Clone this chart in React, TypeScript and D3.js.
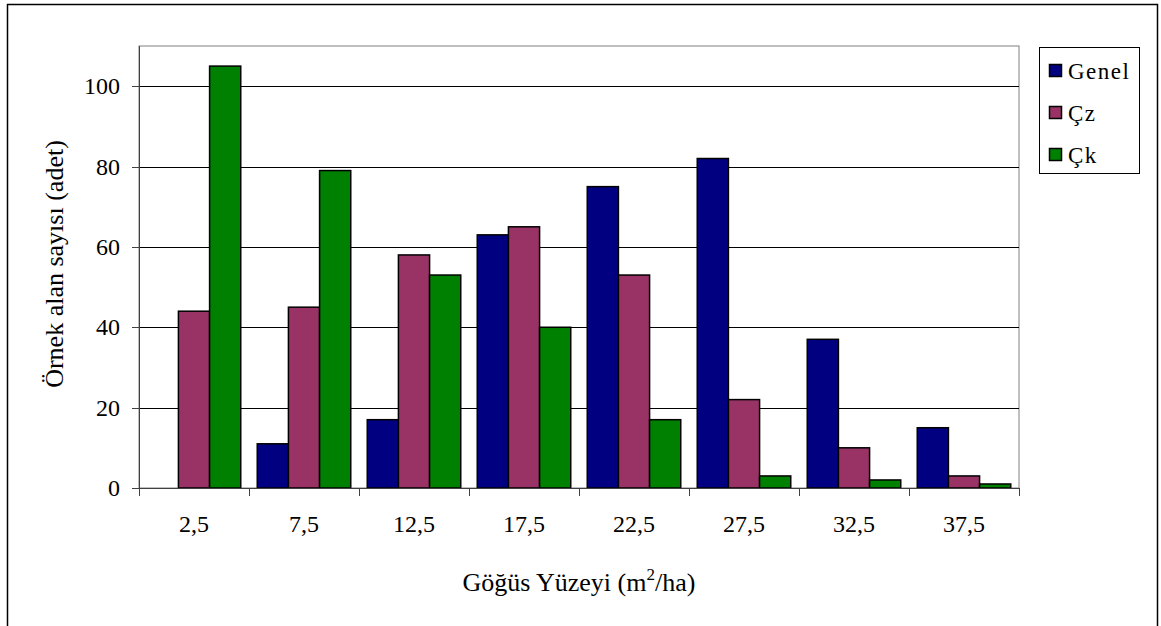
import React from "react";
import * as d3 from "d3";

const categories = ["2,5", "7,5", "12,5", "17,5", "22,5", "27,5", "32,5", "37,5"];
const seriesNames = ["Genel", "Çz", "Çk"];
const genel = [0, 11, 17, 63, 75, 82, 37, 15];
const cz = [44, 45, 58, 65, 53, 22, 10, 3];
const ck = [105, 79, 53, 40, 17, 3, 2, 1];
const colors = ["#000080", "#993366", "#008000"];
const yTicks = [0, 20, 40, 60, 80, 100];

const seriesValues = [genel, cz, ck];

export default function App() {
  const left = 139, right = 1019, top = 46, bottom = 488;
  const x0 = d3.scaleBand<string>().domain(categories).range([left, right]).padding(0);
  const bw = x0.bandwidth();
  const x1 = d3.scaleBand<string>().domain(seriesNames).range([bw * 0.075, bw * 0.925]).padding(0);
  const y = d3.scaleLinear().domain([0, 110]).range([bottom, top]);
  const font = '"Liberation Serif", "Times New Roman", Times, serif';

  return (
    <svg width={1161} height={626} style={{ position: "absolute", left: 0, top: 0, background: "#fff", fontFamily: font }}>
      <rect x={7.5} y={4.5} width={1150} height={700} fill="#fff" stroke="#000" strokeWidth={1.5} />
      {/* plot border */}
      <rect x={left} y={top} width={right - left} height={bottom - top} fill="#fff" stroke="#808080" strokeWidth={1} />
      {/* gridlines */}
      {yTicks.filter(t => t > 0).map(t => (
        <line key={t} x1={left} x2={right} y1={Math.round(y(t)) + 0.5} y2={Math.round(y(t)) + 0.5} stroke="#000" strokeWidth={1} />
      ))}
      {/* bars */}
      {categories.map((c, i) => (
        <g key={c}>
          {seriesNames.map((s, j) => {
            const v = seriesValues[j][i];
            if (v <= 0) return null;
            const bx = (x0(c) as number) + (x1(s) as number);
            return (
              <rect key={s} x={bx} y={y(v)} width={x1.bandwidth()} height={y(0) - y(v)}
                fill={colors[j]} stroke="#000" strokeWidth={1.5} />
            );
          })}
        </g>
      ))}
      {/* axes */}
      <line x1={left + 0.5} x2={left + 0.5} y1={top} y2={bottom} stroke="#404040" strokeWidth={1} />
      <line x1={left} x2={right} y1={bottom + 0.5} y2={bottom + 0.5} stroke="#404040" strokeWidth={1} />
      {yTicks.map(t => (
        <g key={t}>
          <line x1={left - 7} x2={left} y1={Math.round(y(t)) + 0.5} y2={Math.round(y(t)) + 0.5} stroke="#404040" />
          <text x={left - 19} y={y(t) + 8} textAnchor="end" fontSize={24} style={{ fontFamily: font }}>{t}</text>
        </g>
      ))}
      {[...categories.map(c => x0(c) as number), right].map((xv, i) => (
        <line key={i} x1={Math.round(xv) + 0.5} x2={Math.round(xv) + 0.5} y1={bottom} y2={bottom + 8} stroke="#404040" />
      ))}
      {categories.map(c => (
        <text key={c} x={(x0(c) as number) + bw / 2} y={532} textAnchor="middle" fontSize={24} style={{ fontFamily: font }}>{c}</text>
      ))}
      {/* axis titles */}
      <text x={(left + right) / 2} y={591} textAnchor="middle" fontSize={26} style={{ fontFamily: font }}>
        Göğüs Yüzeyi (m<tspan dy={-11} fontSize={17}>2</tspan><tspan dy={11}>/ha)</tspan>
      </text>
      <text transform={`translate(63, ${(top + bottom) / 2 - 3}) rotate(-90)`} textAnchor="middle" fontSize={26} style={{ fontFamily: font }}>
        Örnek alan sayısı (adet)
      </text>
      {/* legend */}
      <rect x={1039.5} y={47.5} width={100} height={126} fill="#fff" stroke="#000" strokeWidth={1} />
      {seriesNames.map((s, j) => (
        <g key={s}>
          <rect x={1049.5} y={64.5 + j * 42} width={12} height={12} fill={colors[j]} stroke="#000" strokeWidth={1.5} />
          <text x={1068} y={79 + j * 42} fontSize={23} letterSpacing={1.5} style={{ fontFamily: font }}>{s}</text>
        </g>
      ))}
    </svg>
  );
}
